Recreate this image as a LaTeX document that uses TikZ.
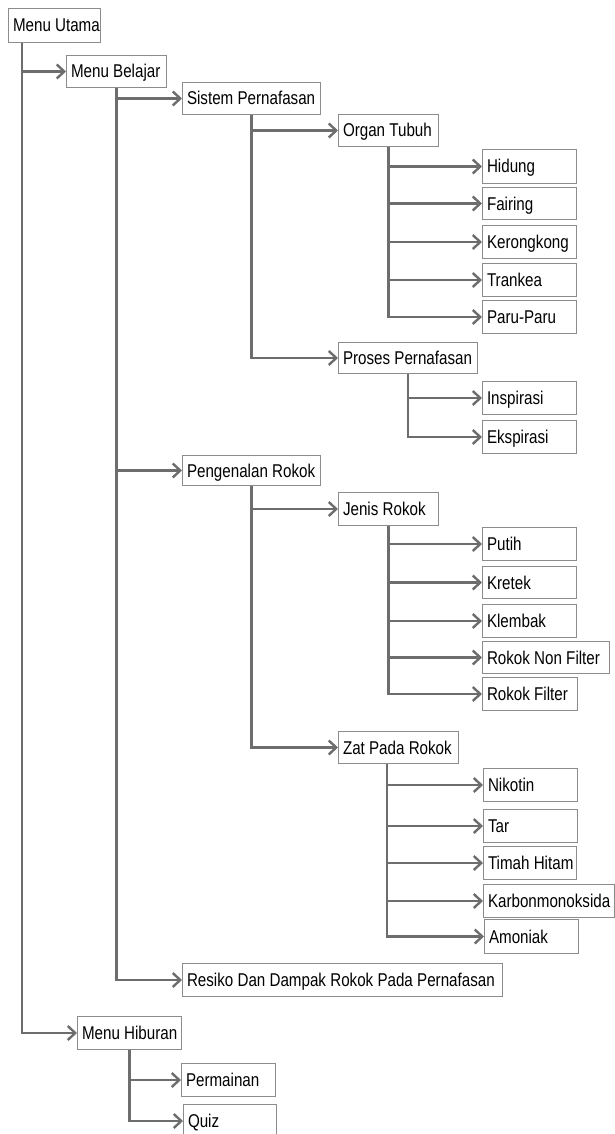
\documentclass[tikz,border=0pt]{standalone}
\usepackage{fontspec}
\setmainfont{Liberation Sans}[FakeStretch=0.82]
\usetikzlibrary{arrows.meta,calc}
\definecolor{linec}{HTML}{6D6D6D}
\definecolor{boxc}{HTML}{8C8C8C}
\tikzset{
  bx/.style={anchor=north west, draw=boxc, line width=1pt, inner xsep=4.5pt, inner ysep=0pt,
    font=\fontsize{18.5}{20}\selectfont, text=black, text height=13pt, text depth=0pt},
  ln/.style={draw=linec, line width=2.4pt},
  arr/.style={ln, -{Straight Barb[length=7.5pt,width=14pt]}}
}
\newcommand\BX[6]{%
  \pgfmathsetmacro\bxw{#4-#2}\pgfmathsetmacro\bxh{#5-#3}\pgfmathsetmacro\bxt{#4-#2-9}%
  \node[bx,minimum width=\bxw pt,minimum height=\bxh pt] (#1) at (#2,#3) {\makebox[\bxt pt][l]{#6}};}
\newcommand\branch[2]{\foreach \c in {#2}{\draw[arr] (#1) |- (\c.west);}}
\begin{document}
\begin{tikzpicture}[x=1pt,y=-1pt]
\clip (0,0) rectangle (615,1134);
\fill[white] (0,0) rectangle (615,1134);
% nodes
\BX{mu}{8}{8}{100}{42}{Menu Utama}
\BX{mb}{66}{55}{166}{87}{Menu Belajar}
\BX{sp}{182}{82}{320}{114}{Sistem Pernafasan}
\BX{ot}{338}{114}{438}{146}{Organ Tubuh}
\BX{hid}{482}{149}{576}{183}{Hidung}
\BX{fai}{482}{187}{576}{219}{Fairing}
\BX{ker}{482}{225}{576}{258}{Kerongkong}
\BX{tra}{482}{263}{576}{296}{Trankea}
\BX{par}{482}{300}{576}{333}{Paru-Paru}
\BX{pp}{338}{342}{477}{373}{Proses Pernafasan}
\BX{ins}{482}{381}{576}{414}{Inspirasi}
\BX{eks}{482}{420}{576}{453}{Ekspirasi}
\BX{pr}{182}{455}{320}{485}{Pengenalan Rokok}
\BX{jr}{338}{492}{438}{525}{Jenis Rokok}
\BX{put}{482}{527}{576}{560}{Putih}
\BX{kre}{482}{566}{576}{598}{Kretek}
\BX{kle}{482}{604}{576}{637}{Klembak}
\BX{rnf}{482}{641}{609}{673}{Rokok Non Filter}
\BX{rf}{482}{677}{577}{710}{Rokok Filter}
\BX{zat}{338}{731}{458}{763}{Zat Pada Rokok}
\BX{nik}{483}{768}{577}{801}{Nikotin}
\BX{tar}{483}{809}{577}{842}{Tar}
\BX{tim}{483}{846}{576}{879}{Timah Hitam}
\BX{kar}{483}{884}{614}{917}{Karbonmonoksida}
\BX{amo}{484}{919}{578}{953}{Amoniak}
\BX{res}{182}{963}{502}{996}{Resiko Dan Dampak Rokok Pada Pernafasan}
\BX{mh}{77}{1016}{181}{1049}{Menu Hiburan}
\BX{per}{181}{1063}{275}{1096}{Permainan}
\BX{qui}{183}{1104}{276}{1137}{Quiz}
% trunk start points
\coordinate (muT) at ($(mu.south west)+(14,0)$);
\coordinate (zatT) at ($(zat.south west)+(49,0)$);
% connectors
\branch{muT}{mb,mh}
\branch{mb.south}{sp,pr,res}
\branch{sp.south}{ot,pp}
\branch{ot.south}{hid,fai,ker,tra,par}
\branch{pp.south}{ins,eks}
\branch{pr.south}{jr,zat}
\branch{jr.south}{put,kre,kle,rnf,rf}
\branch{zatT}{nik,tar,tim,kar,amo}
\branch{mh.south}{per,qui}
\end{tikzpicture}
\end{document}
